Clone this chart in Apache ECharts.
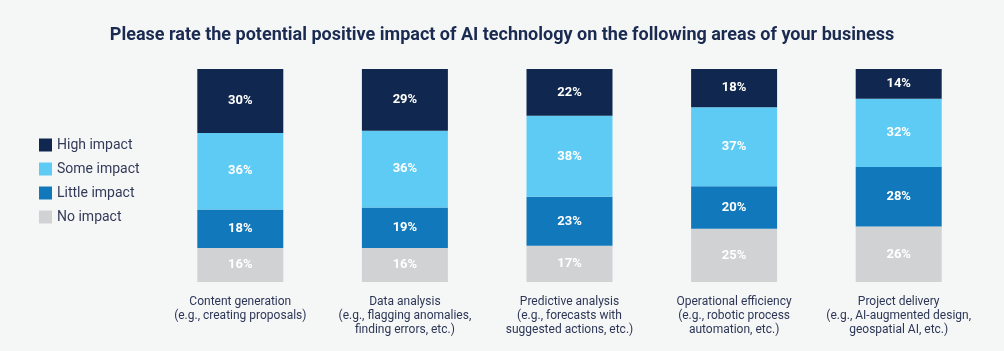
<!DOCTYPE html>
<html>
<head>
<meta charset="utf-8">
<script src="https://cdn.jsdelivr.net/npm/echarts@6/dist/echarts.min.js"></script>
<style>
	html, body { margin: 0; padding: 0; background: #f5f7f7; }
	#chart { width: 1004px; height: 351px; }
</style>
</head>
<body>
<div id="chart"></div>
<script>
var categories = [
	'Content generation\n(e.g., creating proposals)',
	'Data analysis\n(e.g., flagging anomalies,\nfinding errors, etc.)',
	'Predictive analysis\n(e.g., forecasts with\nsuggested actions, etc.)',
	'Operational efficiency\n(e.g., robotic process\nautomation, etc.)',
	'Project delivery\n(e.g., AI-augmented design,\ngeospatial AI, etc.)'
];
var highImpact = [30, 29, 22, 18, 14];
var someImpact = [36, 36, 38, 37, 32];
var littleImpact = [18, 19, 23, 20, 28];
var noImpact = [16, 16, 17, 25, 26];

var FONT = 'Roboto';

function makeSeries(name, data, color) {
	return {
		name: name,
		type: 'bar',
		stack: 'total',
		barWidth: 86,
		data: data,
		itemStyle: { color: color },
		label: {
			show: true,
			position: 'inside',
			formatter: '{c}%',
			color: '#ffffff',
			fontFamily: FONT,
			fontWeight: 'bold',
			fontSize: 13
		}
	};
}

var myChart = echarts.init(document.getElementById('chart'));
var option = {
	backgroundColor: '#f5f7f7',
	animation: false,
	title: {
		text: 'Please rate the potential positive impact of AI technology on the following areas of your business',
		left: 'center',
		top: 21,
		textStyle: { color: '#1a2a50', fontFamily: FONT, fontWeight: 'bold', fontSize: 18 }
	},
	legend: {
		orient: 'vertical',
		left: 39,
		top: 138,
		padding: 0,
		itemWidth: 13,
		itemHeight: 13,
		itemGap: 10,
		icon: 'rect',
		data: ['High impact', 'Some impact', 'Little impact', 'No impact'],
		textStyle: { color: '#333a58', fontFamily: FONT, fontSize: 14, lineHeight: 14 }
	},
	grid: { left: 158, right: 23, top: 69, bottom: 69 },
	xAxis: {
		type: 'category',
		data: categories,
		axisLine: { show: false },
		axisTick: { show: false },
		axisLabel: {
			margin: 13,
			color: '#2d3656',
			fontFamily: FONT,
			fontSize: 12,
			lineHeight: 14,
			interval: 0
		}
	},
	yAxis: { type: 'value', min: 0, max: 100, show: false },
	series: [
		makeSeries('No impact', noImpact, '#d1d2d4'),
		makeSeries('Little impact', littleImpact, '#1179bb'),
		makeSeries('Some impact', someImpact, '#5ecbf5'),
		makeSeries('High impact', highImpact, '#10284f')
	]
};
myChart.setOption(option);
</script>
</body>
</html>
